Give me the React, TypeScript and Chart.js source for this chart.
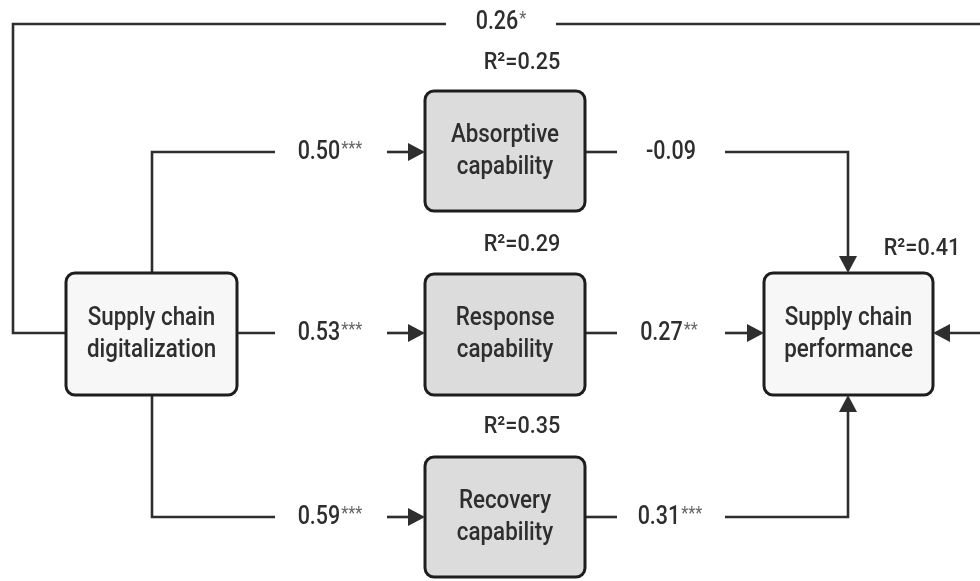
import React, { useEffect, useRef } from "react";
import { Chart, registerables } from "chart.js";

Chart.register(...registerables);

// ---- data ----
const nodeNames = [
  ["Supply chain", "digitalization"],
  ["Absorptive", "capability"],
  ["Response", "capability"],
  ["Recovery", "capability"],
  ["Supply chain", "performance"],
];
const pathCoefs = ["0.50", "0.53", "0.59", "-0.09", "0.27", "0.31", "0.26"];
const pathStars = ["***", "***", "***", "", "**", "***", "*"];
const rSquared = ["0.25", "0.29", "0.35", "0.41"];

// ---- layout (diagram coordinates) ----
const boxes = [
  { x0: 66, x1: 237, y0: 273, y1: 395, fill: "#f7f7f7" },
  { x0: 425, x1: 585, y0: 91, y1: 211, fill: "#dcdcdc" },
  { x0: 425, x1: 585, y0: 274, y1: 395, fill: "#dcdcdc" },
  { x0: 425, x1: 585, y0: 457, y1: 577, fill: "#dcdcdc" },
  { x0: 764, x1: 933, y0: 273, y1: 395, fill: "#f7f7f7" },
];
const connectors = [
  [{ x: 152, y: 273 }, { x: 152, y: 152 }, { x: 275, y: 152 }],
  [{ x: 387, y: 152 }, { x: 412, y: 152 }],
  [{ x: 237, y: 333 }, { x: 275, y: 333 }],
  [{ x: 387, y: 333 }, { x: 412, y: 333 }],
  [{ x: 152, y: 395 }, { x: 152, y: 517 }, { x: 275, y: 517 }],
  [{ x: 387, y: 517 }, { x: 412, y: 517 }],
  [{ x: 585, y: 152 }, { x: 617, y: 152 }],
  [{ x: 725, y: 152 }, { x: 848, y: 152 }, { x: 848, y: 258 }],
  [{ x: 585, y: 333 }, { x: 617, y: 333 }],
  [{ x: 725, y: 333 }, { x: 749, y: 333 }],
  [{ x: 585, y: 517 }, { x: 617, y: 517 }],
  [{ x: 725, y: 517 }, { x: 848, y: 517 }, { x: 848, y: 410 }],
  [{ x: 66, y: 333 }, { x: 13, y: 333 }, { x: 13, y: 24 }, { x: 446, y: 24 }],
  [{ x: 556, y: 24 }, { x: 985, y: 24 }],
  [{ x: 985, y: 333 }, { x: 948, y: 333 }],
];
// arrow tips: x, y, direction
const arrows = [
  { x: 425, y: 152, d: "r" },
  { x: 425, y: 333, d: "r" },
  { x: 425, y: 517, d: "r" },
  { x: 848, y: 273, d: "d" },
  { x: 764, y: 333, d: "r" },
  { x: 848, y: 395, d: "u" },
  { x: 933, y: 333, d: "l" },
];
const coefPos = [
  { x: 330, y: 152 },
  { x: 330, y: 333 },
  { x: 330, y: 517 },
  { x: 671, y: 152 },
  { x: 669, y: 333 },
  { x: 670, y: 517 },
  { x: 501, y: 22 },
];
const r2Pos = [
  { x: 522, y: 63 },
  { x: 522, y: 245 },
  { x: 522, y: 427 },
  { x: 922, y: 249 },
];

const FONT = "Roboto, 'Noto Sans', sans-serif";
const INK = "#2e2e2e";

function roundRect(ctx: CanvasRenderingContext2D, x: number, y: number, w: number, h: number, r: number) {
  ctx.beginPath();
  ctx.moveTo(x + r, y);
  ctx.lineTo(x + w - r, y);
  ctx.arcTo(x + w, y, x + w, y + r, r);
  ctx.lineTo(x + w, y + h - r);
  ctx.arcTo(x + w, y + h, x + w - r, y + h, r);
  ctx.lineTo(x + r, y + h);
  ctx.arcTo(x, y + h, x, y + h - r, r);
  ctx.lineTo(x, y + r);
  ctx.arcTo(x, y, x + r, y, r);
  ctx.closePath();
}

function narrowText(
  ctx: CanvasRenderingContext2D,
  text: string,
  x: number,
  y: number,
  font: string,
  sx: number,
  align: CanvasTextAlign,
  color: string
) {
  ctx.save();
  ctx.translate(x, y);
  ctx.scale(sx, 1);
  ctx.font = font;
  ctx.textAlign = align;
  ctx.textBaseline = "middle";
  ctx.fillStyle = color;
  ctx.fillText(text, 0, 0);
  ctx.restore();
}

const diagramPlugin = {
  id: "diagram",
  afterDatasetsDraw(chart: any) {
    const ctx: CanvasRenderingContext2D = chart.ctx;
    const xs = chart.scales.x;
    const ys = chart.scales.y;
    const px = (v: number) => xs.getPixelForValue(v);
    const py = (v: number) => ys.getPixelForValue(v);
    ctx.save();

    // boxes
    boxes.forEach((b, i) => {
      const x0 = px(b.x0), x1 = px(b.x1), y0 = py(b.y0), y1 = py(b.y1);
      roundRect(ctx, x0, y0, x1 - x0, y1 - y0, 9);
      ctx.fillStyle = b.fill;
      ctx.fill();
      ctx.lineWidth = 3;
      ctx.strokeStyle = "#1e1e1e";
      ctx.stroke();
      const cx = (x0 + x1) / 2, cy = (y0 + y1) / 2;
      const f = `500 26px ${FONT}`;
      narrowText(ctx, nodeNames[i][0], cx, cy - 16, f, 0.86, "center", INK);
      narrowText(ctx, nodeNames[i][1], cx, cy + 16, f, 0.86, "center", INK);
    });

    // arrowheads
    ctx.fillStyle = INK;
    arrows.forEach((a) => {
      const x = px(a.x), y = py(a.y);
      const L = 17, W = 9;
      ctx.beginPath();
      ctx.moveTo(x, y);
      if (a.d === "r") { ctx.lineTo(x - L, y - W); ctx.lineTo(x - L, y + W); }
      if (a.d === "l") { ctx.lineTo(x + L, y - W); ctx.lineTo(x + L, y + W); }
      if (a.d === "d") { ctx.lineTo(x - W, y - L); ctx.lineTo(x + W, y - L); }
      if (a.d === "u") { ctx.lineTo(x - W, y + L); ctx.lineTo(x + W, y + L); }
      ctx.closePath();
      ctx.fill();
    });

    // coefficient labels
    const SX = 0.86;
    const fMain = `500 25px ${FONT}`;
    const fStar = `400 19px ${FONT}`;
    pathCoefs.forEach((c, i) => {
      const p = coefPos[i];
      ctx.font = fMain;
      const w1 = ctx.measureText(c).width * SX;
      ctx.font = fStar;
      const w2 = pathStars[i] ? ctx.measureText(pathStars[i]).width * SX + 1 : 0;
      const left = px(p.x) - (w1 + w2) / 2;
      narrowText(ctx, c, left, py(p.y) + 1, fMain, SX, "left", INK);
      if (pathStars[i]) {
        narrowText(ctx, pathStars[i], left + w1 + 1, py(p.y) - 3, fStar, SX, "left", "#666");
      }
    });

    // R² labels
    rSquared.forEach((r, i) => {
      const p = r2Pos[i];
      narrowText(ctx, `R²=${r}`, px(p.x), py(p.y), `500 24px ${FONT}`, 0.9, "center", INK);
    });

    ctx.restore();
  },
};

export default function App() {
  const ref = useRef<HTMLCanvasElement | null>(null);
  useEffect(() => {
    if (!ref.current) return;
    const chart = new Chart(ref.current, {
      type: "scatter",
      data: {
        datasets: connectors.map((pts) => ({
          data: pts,
          showLine: true,
          borderColor: INK,
          borderWidth: 2.6,
          pointRadius: 0,
          fill: false,
          tension: 0,
          borderJoinStyle: "miter" as const,
        })),
      },
      options: {
        animation: false,
        responsive: true,
        maintainAspectRatio: false,
        layout: { padding: 0 },
        plugins: { legend: { display: false }, tooltip: { enabled: false } },
        scales: {
          x: { type: "linear", min: 0, max: 980, display: false },
          y: { type: "linear", min: 0, max: 581, reverse: true, display: false },
        },
      },
      plugins: [diagramPlugin],
    });
    return () => chart.destroy();
  }, []);
  return (
    <div style={{ position: "absolute", left: 0, top: 0, width: 980, height: 581, background: "#fff" }}>
      <canvas ref={ref} />
    </div>
  );
}
